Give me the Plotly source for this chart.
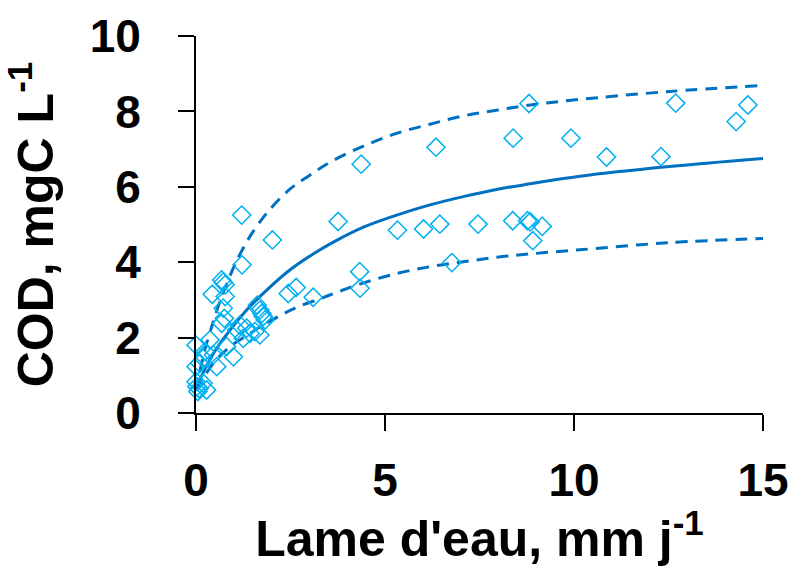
import plotly.graph_objects as go

# Observed points (Lame d'eau, mm/j ; COD, mgC/L)
obs_x = [1.21, 2.02, 1.22, 3.76, 4.37, 4.33, 4.34, 5.33, 6.02, 6.45, 6.35, 6.77, 7.46,
         8.39, 8.38, 8.81, 8.77, 8.84, 8.91, 9.16, 9.92, 10.86, 12.3, 12.69, 14.29, 14.6,
         0.68, 0.72, 0.77, 0.43, 0.77, 0.72, 0.75, 0.68, 1.16, 1.08, 2.44, 2.65, 3.1,
         1.62, 1.69, 1.74, 1.78, 1.83, 1.43, 1.56, 1.69, 1.34, 1.25, 0.81, 0.99,
         0.37, 0.0, 0.24, 0.46, 0.19, 0.0, 0.1, 0.55, 0.02, 0.0, 0.05, 0.28, 0.19, 0.08]
obs_y = [5.25, 4.59, 3.93, 5.08, 6.6, 3.75, 3.31, 4.85, 4.88, 5.01, 7.05, 3.99, 5.01,
         7.29, 5.1, 8.21, 5.1, 5.07, 4.57, 4.95, 7.29, 6.79, 6.8, 8.22, 7.73, 8.17,
         3.53, 3.47, 3.4, 3.15, 3.09, 2.78, 2.51, 2.38, 2.33, 2.2, 3.17, 3.33, 3.07,
         2.86, 2.73, 2.64, 2.56, 2.47, 2.11, 2.16, 2.07, 2.25, 1.98, 1.76, 1.49,
         1.94, 1.8, 1.63, 1.54, 1.45, 1.23, 1.32, 1.23, 0.7, 0.83, 0.57, 0.61, 0.79, 0.65]

# Fitted curve (solid) and envelope (dashed)
fit_x = [0.0, 0.1, 0.46, 0.9, 1.34, 1.87, 2.49, 3.1, 3.72, 4.43, 5.31, 6.19, 7.07, 7.95,
         8.84, 10.16, 12.45, 15.0]
fit_y = [0.6, 0.88, 1.58, 2.2, 2.73, 3.26, 3.8, 4.22, 4.58, 4.93, 5.25, 5.52, 5.74, 5.93,
         6.08, 6.28, 6.53, 6.75]

up_x = [0.0, 0.06, 0.24, 0.42, 0.63, 0.99, 1.21, 1.47, 1.91, 2.5, 3.0, 3.54, 4.43, 5.31,
        6.19, 7.07, 7.95, 8.84, 9.98, 12.54, 15.0]
up_y = [0.6, 0.9, 1.7, 2.3, 2.95, 3.85, 4.3, 4.75, 5.35, 5.95, 6.3, 6.65, 7.08, 7.42,
        7.66, 7.88, 8.03, 8.17, 8.3, 8.53, 8.69]

lo_x = [0.0, 0.06, 0.46, 0.9, 1.34, 1.69, 2.22, 2.66, 3.28, 3.72, 4.43, 5.31, 6.19, 7.07,
        7.95, 8.84, 10.16, 12.54, 15.0]
lo_y = [0.6, 0.7, 1.32, 1.76, 2.05, 2.28, 2.58, 2.8, 3.03, 3.2, 3.45, 3.7, 3.88, 4.01,
        4.13, 4.22, 4.33, 4.52, 4.63]

x_ticks = [0, 5, 10, 15]
y_ticks = [0, 2, 4, 6, 8, 10]

LINE = "#0070C0"
MARK = "#00B0F0"
FONT = "Liberation Sans"

fig = go.Figure()
fig.add_trace(go.Scatter(x=up_x, y=up_y, mode="lines", line=dict(color=LINE, width=3, dash="12px,8px", shape="spline"), hoverinfo="skip"))
fig.add_trace(go.Scatter(x=lo_x, y=lo_y, mode="lines", line=dict(color=LINE, width=3, dash="12px,8px", shape="spline"), hoverinfo="skip"))
fig.add_trace(go.Scatter(x=fit_x, y=fit_y, mode="lines", line=dict(color=LINE, width=3, shape="spline"), hoverinfo="skip"))
fig.add_trace(go.Scatter(x=obs_x, y=obs_y, mode="markers", cliponaxis=False,
                         marker=dict(symbol="diamond-open", size=14, color=MARK, line=dict(width=1.5, color=MARK))))

axis_common = dict(showline=True, linecolor="black", linewidth=2, ticks="outside", ticklen=16,
                   tickwidth=2, tickcolor="black", showgrid=False, zeroline=False, automargin=False,
                   tickfont=dict(family=FONT, size=46, color="black", weight="bold"))

fig.update_xaxes(range=[0, 15], tickvals=x_ticks, ticklabelstandoff=10,
                 title=dict(text="Lame d'eau, mm j<sup>-1</sup>", font=dict(family=FONT, size=50, color="black", weight="bold"), standoff=22),
                 **axis_common)
fig.update_yaxes(range=[0, 10], tickvals=y_ticks, ticklabelstandoff=28,
                 title=dict(text="COD, mgC L<sup>-1</sup>", font=dict(family=FONT, size=50, color="black", weight="bold"), standoff=24),
                 **axis_common)

fig.update_layout(width=792, height=567, margin=dict(l=196, r=29, t=36, b=154),
                  plot_bgcolor="white", paper_bgcolor="white", showlegend=False)

fig.write_html("out.html")
